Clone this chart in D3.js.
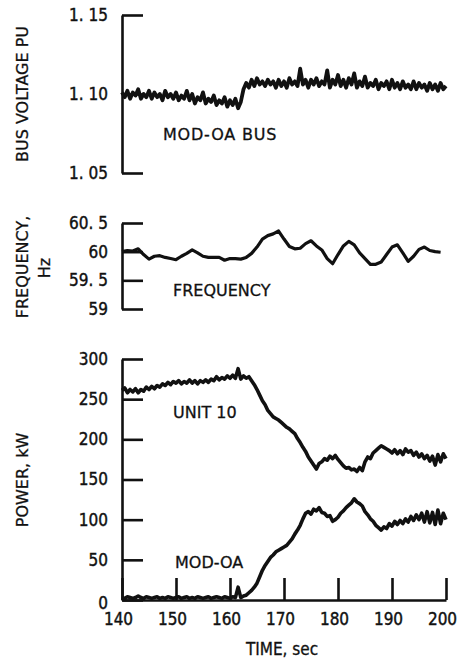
<!DOCTYPE html>
<html>
<head>
<meta charset="utf-8">
<script src="https://cdn.jsdelivr.net/npm/d3@7"></script>
<style>
body { margin: 0; background: #fff; }
.tick text { font-family: 'DejaVu Sans Condensed', 'Liberation Sans', sans-serif; font-size: 17px; fill: #111; stroke: #111; stroke-width: 0.4px; }
.lab { font-family: 'DejaVu Sans', sans-serif; font-size: 16px; fill: #111; stroke: #111; stroke-width: 0.3px; }
.cond { font-family: 'DejaVu Sans Condensed', 'DejaVu Sans', sans-serif; font-size: 17px; }
</style>
</head>
<body>
<div id="chart"></div>
<script>
var fw = 457, fh = 662;

// time grid
var tHalf = d3.range(140, 200.01, 0.5);
var tOne = d3.range(140, 200.01, 1);

// bus voltage, pu (every 0.5 s)
var voltage = [
  1.101, 1.098, 1.102, 1.097, 1.101, 1.099, 1.103, 1.097, 1.100, 1.098,
  1.102, 1.097, 1.101, 1.098, 1.100, 1.096, 1.102, 1.098, 1.100, 1.097,
  1.101, 1.096, 1.099, 1.097, 1.102, 1.096, 1.100, 1.094, 1.098, 1.096,
  1.101, 1.094, 1.097, 1.095, 1.099, 1.093, 1.096, 1.094, 1.098, 1.092,
  1.096, 1.093, 1.097, 1.091, 1.095, 1.103, 1.107, 1.104, 1.109, 1.105,
  1.110, 1.106, 1.108, 1.105, 1.109, 1.106, 1.108, 1.104, 1.109, 1.105,
  1.108, 1.104, 1.110, 1.106, 1.108, 1.105, 1.116, 1.106, 1.109, 1.104,
  1.109, 1.106, 1.110, 1.105, 1.108, 1.106, 1.115, 1.104, 1.109, 1.106,
  1.112, 1.105, 1.109, 1.104, 1.110, 1.106, 1.113, 1.104, 1.108, 1.105,
  1.111, 1.104, 1.107, 1.105, 1.109, 1.103, 1.107, 1.105, 1.108, 1.103,
  1.109, 1.104, 1.107, 1.103, 1.108, 1.104, 1.106, 1.103, 1.108, 1.103,
  1.107, 1.104, 1.106, 1.102, 1.107, 1.103, 1.106, 1.102, 1.107, 1.103,
  1.105
];

// frequency, Hz (every 1 s)
var frequency = [
  60.00, 60.02, 60.01, 60.05, 59.95, 59.87, 59.92, 59.93, 59.90, 59.88,
  59.86, 59.92, 59.97, 60.03, 59.98, 59.92, 59.90, 59.90, 59.90, 59.85,
  59.88, 59.88, 59.87, 59.90, 59.97, 60.08, 60.22, 60.28, 60.31, 60.36,
  60.22, 60.09, 60.05, 60.06, 60.14, 60.19, 60.10, 60.03, 59.88, 59.79,
  59.95, 60.10, 60.18, 60.12, 59.98, 59.88, 59.78, 59.78, 59.82, 59.95,
  60.08, 60.12, 59.98, 59.83, 59.92, 60.04, 60.08, 60.02, 60.00, 59.99
];

// unit 10 power, kW (every 0.5 s)
var unit10 = [
  261, 264, 258, 262, 259, 263, 258, 262, 260, 265,
  262, 266, 263, 267, 265, 269, 267, 271, 268, 272,
  270, 273, 269, 272, 270, 274, 270, 273, 269, 273,
  271, 274, 271, 275, 273, 278, 274, 277, 275, 279,
  276, 280, 276, 288, 275, 279, 276, 278, 273, 268,
  262, 255, 248, 243, 236, 232, 228, 226, 224, 221,
  218, 215, 213, 210, 207, 201, 196, 190, 185, 178,
  173, 168, 163, 170, 172, 176, 174, 179, 176, 180,
  175, 171, 167, 164, 165, 162, 163, 160, 165, 161,
  172, 178, 176, 183, 186, 189, 192, 190, 188, 186,
  183, 187, 182, 186, 181, 188, 184, 186, 180, 184,
  178, 182, 176, 180, 173, 179, 168, 181, 172, 182,
  176
];

// MOD-OA power, kW (every 0.5 s)
var modOA = [
  3, 2, 4, 3, 2, 3, 5, 3, 2, 4,
  3, 2, 3, 4, 2, 3, 2, 4, 3, 2,
  3, 4, 2, 3, 4, 2, 3, 2, 4, 3,
  2, 3, 4, 2, 3, 4, 3, 2, 4, 3,
  2, 4, 3, 16, 3, 5, 6, 9, 12, 16,
  21, 29, 37, 43, 48, 53, 56, 60, 62, 64,
  66, 68, 72, 76, 82, 87, 93, 101, 108, 110,
  107, 113, 111, 115, 109, 108, 104, 105, 98, 100,
  103, 108, 111, 115, 118, 121, 126, 122, 120, 117,
  110, 106, 101, 98, 93, 90, 87, 91, 89, 95,
  92, 98, 94, 99, 95, 101, 97, 104, 99, 106,
  100, 108, 97, 110, 96, 109, 94, 112, 95, 108,
  100
];

var vTicks = [1.05, 1.10, 1.15];
var vLabels = ["1. 05", "1. 10", "1. 15"];
var fTicks = [59, 59.5, 60, 60.5];
var fLabels = ["59", "59. 5", "60", "60. 5"];
var pTicks = [0, 50, 100, 150, 200, 250, 300];
var tTicks = [140, 150, 160, 170, 180, 190, 200];

var svg = d3.select("#chart")
  .append("svg")
  .attr("width", fw)
  .attr("height", fh);

var x = d3.scaleLinear().domain([140, 200]).range([122, 446]);
var yV = d3.scaleLinear().domain([1.05, 1.15]).range([173, 15]);
var yF = d3.scaleLinear().domain([59, 60.5]).range([309, 223]);
var yP = d3.scaleLinear().domain([0, 300]).range([600, 359]);

function yAxis(scale, ticks, labels) {
  var ax = d3.axisLeft(scale)
    .tickValues(ticks)
    .tickSize(-21)
    .tickSizeOuter(0)
    .tickPadding(14);
  if (labels) ax.tickFormat(function(d, i) { return labels[i]; });
  var g = svg.append("g")
    .attr("transform", "translate(122,0)")
    .call(ax);
  g.select(".domain").attr("stroke", "#111").attr("stroke-width", 2.6);
  g.selectAll(".tick line").attr("stroke", "#111").attr("stroke-width", 2.6);
  return g;
}

yAxis(yV, vTicks, vLabels);
yAxis(yF, fTicks, fLabels);
var gp = yAxis(yP, pTicks, null);
// the zero label sits a little low in the original
gp.selectAll(".tick text").filter(function(d) { return d === 0; }).attr("y", 3);

var xA = d3.axisBottom(x)
  .tickValues(tTicks)
  .tickSize(-22)
  .tickSizeOuter(0)
  .tickPadding(13)
  .tickFormat(d3.format("d"));

var gx = svg.append("g")
  .attr("transform", "translate(0,600)")
  .call(xA);
gx.select(".domain").attr("stroke", "#111").attr("stroke-width", 2.6);
gx.selectAll(".tick line").attr("stroke", "#111").attr("stroke-width", 2.6);
gx.selectAll(".tick text").attr("dx", -4);

function drawLine(times, vals, yScale, sw) {
  var line = d3.line()
    .x(function(d, i) { return x(times[i]); })
    .y(function(d) { return yScale(d); });
  svg.append("path")
    .datum(vals)
    .attr("fill", "none")
    .attr("stroke", "#111")
    .attr("stroke-width", sw)
    .attr("stroke-linejoin", "round")
    .attr("d", line);
}

drawLine(tHalf, voltage, yV, 3.8);
drawLine(tOne, frequency, yF, 3.2);
drawLine(tHalf, unit10, yP, 3.6);
drawLine(tHalf, modOA, yP, 3.6);

// labels inside the plots
svg.append("text").attr("class", "lab").attr("x", 163).attr("y", 140)
  .style("letter-spacing", "0.8px").text("MOD-OA BUS");
svg.append("text").attr("class", "lab").attr("x", 173).attr("y", 296).text("FREQUENCY");
svg.append("text").attr("class", "lab").attr("x", 173).attr("y", 418).text("UNIT 10");
svg.append("text").attr("class", "lab").attr("x", 175).attr("y", 568).text("MOD-OA");

// axis titles
svg.append("text").attr("class", "lab")
  .attr("transform", "translate(28,94) rotate(-90)")
  .style("text-anchor", "middle")
  .text("BUS VOLTAGE PU");
svg.append("text").attr("class", "lab")
  .attr("transform", "translate(28,267) rotate(-90)")
  .style("text-anchor", "middle")
  .text("FREQUENCY,");
svg.append("text").attr("class", "lab")
  .attr("transform", "translate(50,268) rotate(-90)")
  .style("text-anchor", "middle")
  .text("Hz");
svg.append("text").attr("class", "lab")
  .attr("transform", "translate(28,480) rotate(-90)")
  .style("text-anchor", "middle")
  .text("POWER, kW");
svg.append("text").attr("class", "lab cond")
  .attr("x", 282).attr("y", 655)
  .style("text-anchor", "middle")
  .text("TIME, sec");
</script>
</body>
</html>
